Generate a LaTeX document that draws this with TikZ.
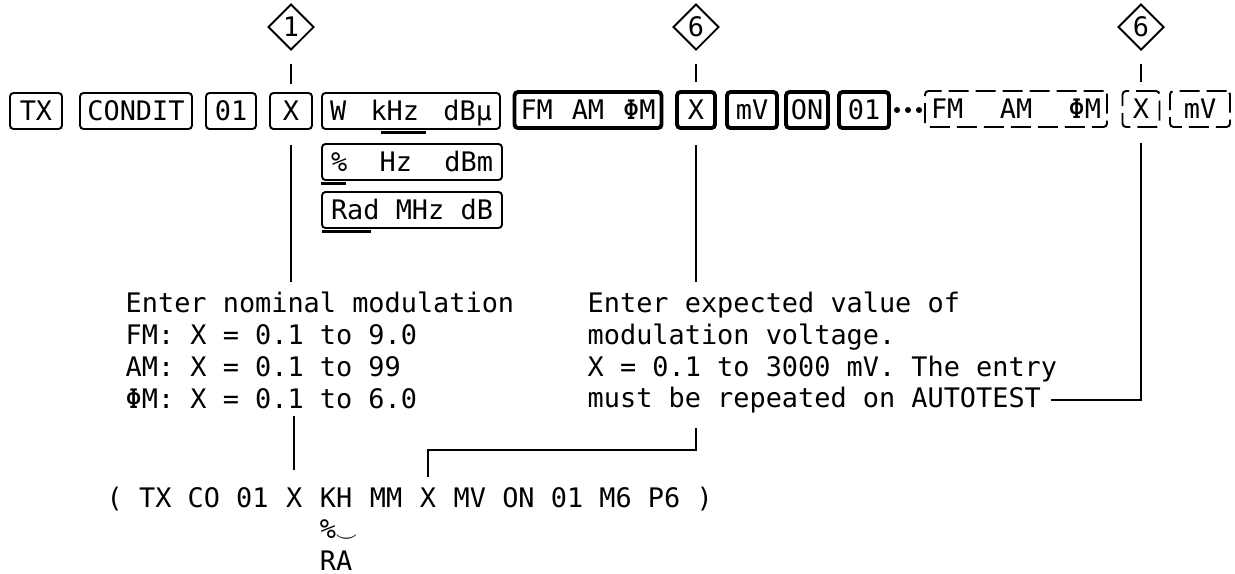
\documentclass[tikz,border=0pt]{standalone}
\usepackage{fontspec}
\setmonofont{DejaVu Sans Mono}
\usetikzlibrary{positioning, calc}
\usetikzlibrary{shapes.geometric}

\newcommand{\spreadthree}[4]{\makebox[#1]{#2\hfill #3\hfill #4}}

\begin{document}
\begin{tikzpicture}[
  x=0.1mm, y=-0.1mm,
  every node/.style={font=\ttfamily\fontsize{7.65}{9.1}\selectfont, inner sep=0pt},
  key/.style={draw, rounded corners=1pt, line width=0.55pt, minimum height=3.6mm,
              text height=1.95mm, text depth=0.1mm},
  keybold/.style={key, line width=1.1pt},
  keydash/.style={key, dash pattern=on 2mm off 0.7mm},
  marker/.style={draw, diamond, aspect=1, minimum size=4.6mm, line width=0.55pt},
  tick/.style={draw, line width=0.5pt, shorten <=1.3mm, shorten >=0.8mm},
  link/.style={draw, line width=0.55pt},
  note/.style={align=left, anchor=north west},
  deflt/.style={line width=1pt}
]
  \useasboundingbox (0,0) rectangle (1235,573);

  % --- tasti ---
  \node[key, minimum width=5.2mm]  (kTX)     at (36,111)  {TX};
  \node[key, minimum width=11.2mm] (kCondit) at (136,111) {CONDIT};
  \node[key, minimum width=5mm]    (kNum)    at (231,111) {01};
  \node[key, minimum width=4.2mm]  (kX)      at (291,111) {X};
  \node[key, minimum width=17.8mm] (uW)   at (411,111) {\spreadthree{16.2mm}{W}{kHz}{dBμ}};
  \node[key, minimum width=18mm]   (uPct) at (412,162) {\spreadthree{16.2mm}{\%}{Hz}{dBm}};
  \node[key, minimum width=18mm]   (uRad) at (412,210) {\spreadthree{16.2mm}{Rad}{MHz}{dB}};
  \draw[deflt] ($(uW.south west)+(60,2.5)$) -- ++(45,0);
  \draw[deflt] ($(uPct.south west)+(0,2.5)$) -- ++(25,0);
  \draw[deflt] ($(uRad.south west)+(1,2.5)$) -- ++(49,0);

  % --- blocco modulazione ---
  \node[keybold, minimum width=14.7mm] (bMod) at (588,110) {\spreadthree{13.5mm}{FM}{AM}{ΦM}};
  \node[keybold, minimum width=3.8mm]  (bX)   at (696,110) {X};
  \node[keybold, minimum width=5mm]    (bmV)  at (752,110) {mV};
  \node[keybold, minimum width=4.2mm]  (bON)  at (807,110) {ON};
  \node[keybold, minimum width=5mm]    (bNum) at (864,110) {01};
  \foreach \x in {897,908,919}
    \fill (\x,110) circle[radius=0.3mm];
  \node[keydash, minimum width=18.2mm] (dMod) at (1016,109) {\spreadthree{17mm}{FM}{AM}{ΦM}};
  \node[keydash, minimum width=3.7mm]  (dX)   at (1141,109) {X};
  \node[keydash, minimum width=6mm]    (dmV)  at (1200,109) {mV};

  % --- rimandi ---
  \node[marker] (m1)  at (291,27)  {1};
  \node[marker] (m6a) at (696,27)  {6};
  \node[marker] (m6b) at (1141,27) {6};
  \draw[tick] (m1) -- (kX);
  \draw[tick] (m6a) -- (bX);
  \draw[tick] (m6b) -- (dX);

  % --- note ---
  \node[note] (nominal) at (125,291)
    {Enter nominal modulation\\FM: X = 0.1 to 9.0\\AM: X = 0.1 to 99\\ΦM: X = 0.1 to 6.0};
  \node[note] (expected) at (587,291)
    {Enter expected value of\\modulation voltage.\\X = 0.1 to 3000 mV. The entry};
  \node[anchor=base west] (autotest) at (587,407) {must be repeated on AUTOTEST};

  % --- codice ---
  \node[anchor=base west] (codeA) at (106,507) {( TX CO 01};
  \node[base right=1.62mm of codeA]  (codeX1) {X};
  \node[base right=1.62mm of codeX1] (codeKH) {KH};
  \node[base right=1.62mm of codeKH] (codeMM) {MM};
  \node[base right=1.62mm of codeMM] (codeX2) {X};
  \node[base right=1.62mm of codeX2] (codeB)  {MV ON 01 M6 P6 )};
  \node[anchor=base west] (codePct) at ($(codeKH.base west)+(0,31)$)
    {\%\kern-0.5pt\raisebox{-1pt}{$\scriptstyle\smile$}};
  \node[anchor=base west] (codeRA) at ($(codeKH.base west)+(0,63)$) {RA};

  % --- linee ---
  \draw[link, shorten <=1.5mm, shorten >=0.9mm] (kX.south) -- (kX.south |- nominal.north);
  \draw[link, shorten <=0.7mm, shorten >=1.7mm] (codeX1.north |- nominal.south) -- (codeX1.north);
  \draw[link, shorten <=1.5mm, shorten >=0.9mm] (bX.south) -- (bX.south |- expected.north);
  \draw[link, shorten <=1.5mm, shorten >=1mm] (autotest.south -| bX.south) -- ++(0,37) -| (codeX2.north);
  \draw[link, shorten <=0.9mm, shorten >=1.5mm] (autotest.east) -| (dX.south);
\end{tikzpicture}
\end{document}
